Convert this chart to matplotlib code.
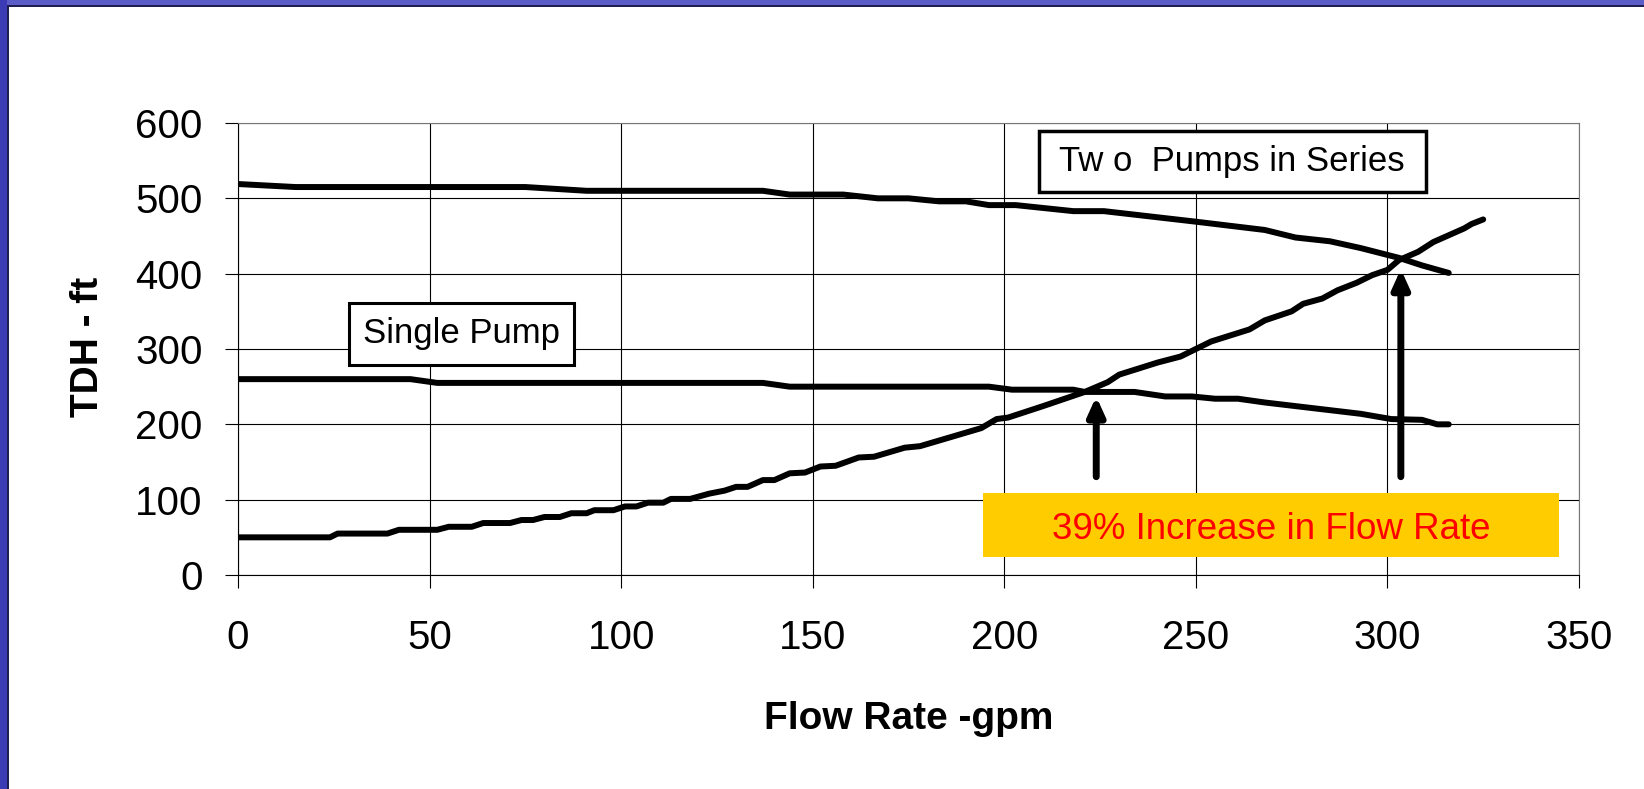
import matplotlib
matplotlib.use("Agg")
import matplotlib.pyplot as plt
from matplotlib.patches import Rectangle

plt.rcParams['font.family'] = ['Liberation Sans', 'DejaVu Sans']

# values (gpm, ft)
single_x = [0, 45, 52, 137, 144, 196, 202, 218, 221, 234, 242, 249, 255, 261,
            268, 293, 301, 309, 313, 316]
single_y = [260, 260, 255, 255, 250, 250, 246, 246, 243, 243, 237, 237, 234, 234,
            229, 214, 207, 206, 200, 200]

series_x = [0, 15, 75, 91, 137, 144, 158, 167, 175, 183, 190, 196, 203, 218, 226,
            250, 268, 276, 285, 293, 303, 309, 316]
series_y = [519, 515, 515, 510, 510, 505, 505, 500, 500, 496, 496, 491, 491, 483, 483,
            469, 458, 448, 443, 434, 421, 411, 401]

system_x = [0, 24, 26, 39, 42, 52, 55, 61, 64, 71, 74, 77, 80, 84, 87, 91, 93, 98,
            101, 104, 107, 111, 113, 118, 123, 127, 130, 133, 137, 140, 144, 148,
            152, 156, 162, 166, 174, 178, 184, 188, 194, 198, 201, 210, 221, 227,
            230, 240, 246, 250, 254, 264, 268, 275, 278, 283, 287, 292, 296, 300,
            303, 308, 312, 316, 320, 322, 325]
system_y = [50, 50, 55, 55, 60, 60, 64, 64, 69, 69, 73, 73, 77, 77, 82, 82, 86, 86,
            91, 91, 96, 96, 101, 101, 108, 112, 117, 117, 126, 126, 135, 136,
            144, 145, 156, 157, 169, 171, 180, 186, 195, 207, 209, 224, 243, 256,
            266, 282, 290, 300, 310, 326, 338, 350, 360, 367, 378, 388, 398, 405,
            418, 429, 442, 451, 460, 466, 472]

x_ticks = [0, 50, 100, 150, 200, 250, 300, 350]
y_ticks = [0, 100, 200, 300, 400, 500, 600]

W, H = 1644, 789
fig = plt.figure(figsize=(W / 100, H / 100), dpi=100)
ax = fig.add_axes([238 / W, 1 - 575 / H, 1341 / W, 452 / H])

ax.set_xlim(0, 350)
ax.set_ylim(0, 600)
ax.set_xticks(x_ticks)
ax.set_yticks(y_ticks)
ax.grid(True, color='black', lw=0.8)
ax.set_axisbelow(True)
for s in ax.spines.values():
    s.set_linewidth(0.8)
ax.spines['top'].set_color('#777777')
ax.spines['right'].set_color('#777777')

ax.tick_params(axis='both', direction='out', length=9.4, width=0.8, labelsize=29)
ax.tick_params(axis='y', pad=16)
ax.tick_params(axis='x', pad=22)

ax.set_xlabel('Flow Rate -gpm', fontsize=28, fontweight='bold', va='center')
ax.xaxis.set_label_coords(0.5, -0.318)
ax.set_ylabel('TDH - ft', fontsize=28, fontweight='bold', va='center')
ax.yaxis.set_label_coords(-0.112, 0.505)

for xs, ys in [(single_x, single_y), (series_x, series_y), (system_x, system_y)]:
    ax.plot(xs, ys, color='black', lw=4.3, solid_capstyle='round',
            solid_joinstyle='round', zorder=3)

# label boxes
ax.add_patch(Rectangle((29, 279), 58.7, 82.7, fc='white', ec='black', lw=2.2,
                       zorder=4, clip_on=False))
ax.text(58.4, 320, 'Single Pump', fontsize=25, ha='center', va='center', zorder=5)

ax.add_patch(Rectangle((209, 508), 101, 82, fc='white', ec='black', lw=2.5,
                       zorder=4, clip_on=False))
ax.text(259.5, 549, 'Tw o  Pumps in Series', fontsize=25, ha='center', va='center',
        zorder=5)

ax.add_patch(Rectangle((194.5, 24.3), 150.4, 84.2, fc='#FFCC00', ec='none',
                       zorder=4, clip_on=False))
ax.text(269.7, 61, '39% Increase in Flow Rate', fontsize=26.5, color='#FF0000',
        ha='center', va='center', zorder=5)

# arrows to the operating points
for xa, ytip in [(224, 237), (303.5, 406)]:
    ax.annotate('', xy=(xa, ytip), xytext=(xa, 130.5),
                arrowprops=dict(arrowstyle='-|>,head_length=1.1,head_width=0.5',
                                mutation_scale=10, lw=5, color='black',
                                shrinkA=0, shrinkB=0), zorder=5)

# slide frame
fig.patches.append(Rectangle((0, 1 - 5 / H), 1, 5 / H, transform=fig.transFigure,
                             fc='#5c5cc8', ec='none'))
fig.patches.append(Rectangle((0, 1 - 7 / H), 1, 2 / H, transform=fig.transFigure,
                             fc='#1e1e50', ec='none'))
fig.patches.append(Rectangle((0, 0), 7 / W, 1, transform=fig.transFigure,
                             fc='#3b3bb5', ec='none'))
fig.patches.append(Rectangle((7 / W, 0), 2 / W, 1 - 5 / H, transform=fig.transFigure,
                             fc='#1e1e50', ec='none'))

fig.savefig('out.png', dpi=100)
